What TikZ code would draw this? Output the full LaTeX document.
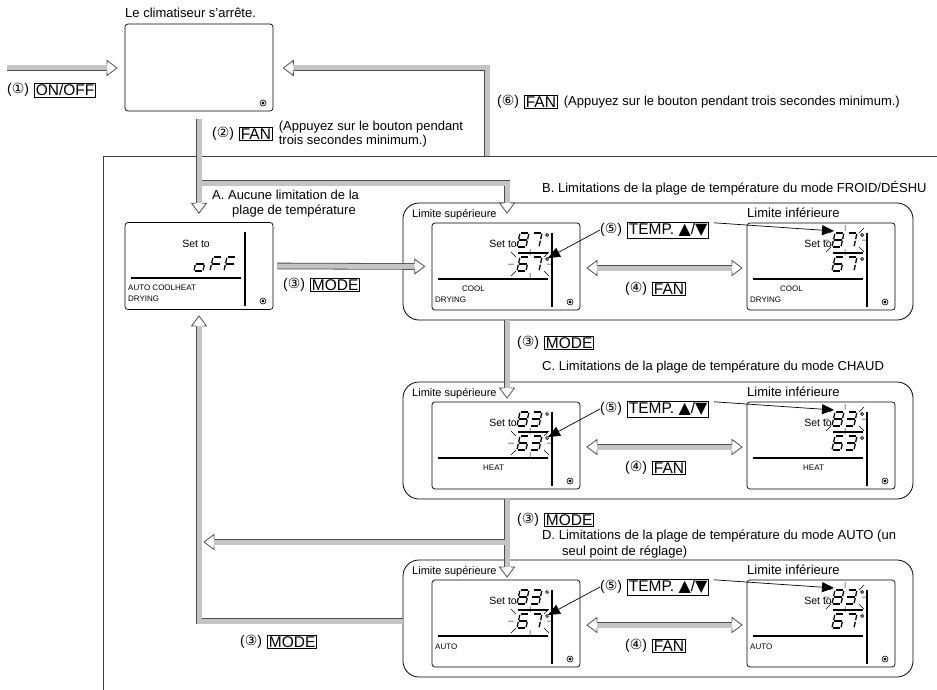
\documentclass[tikz,border=0pt]{standalone}
\usepackage{fontspec}
\setmainfont{Liberation Sans}
\newfontfamily\symfont{DejaVu Sans}
\usetikzlibrary{arrows.meta,positioning,calc}
\definecolor{bargray}{HTML}{C4C4C4}
\definecolor{baredge}{HTML}{4D4D4D}

% segments of the LCD figures
\def\segEight{a,b,c,d,e,f,g}
\def\segSeven{a,b,c}
\def\segSix{a,c,d,e,f,g}
\def\segThree{a,b,c,d,g}
\def\segLowO{c,d,e,g}
\def\segF{a,e,f,g}

\newcommand\stepno[1]{{\fontsize{14}{14}\selectfont(}{\symfont\fontsize{14}{14}\selectfont #1}{\fontsize{14}{14}\selectfont)}}
\newcommand\tri[1]{{\symfont\fontsize{16}{16}\selectfont #1}}

\tikzset{
  txt/.style={inner sep=0pt, font=\fontsize{13}{14}\selectfont},
  small/.style={inner sep=0pt, font=\fontsize{11}{12}\selectfont},
  tiny/.style={inner sep=0pt, font=\fontsize{8}{9}\selectfont},
  setto/.style={inner sep=0pt, font=\fontsize{10.5}{11}\selectfont},
  btn/.style={draw, line width=0.6pt, inner sep=1.3pt, font=\fontsize{15.5}{16}\selectfont},
  lcd/.style={draw, line width=0.7pt, rounded corners=3pt, minimum width=148pt, minimum height=87pt, inner sep=0pt},
  grp/.style={draw, line width=0.8pt, rounded corners=16pt, minimum width=510pt, minimum height=117pt, inner sep=0pt},
  frame/.style={draw=black!75, line width=0.8pt},
  lcdline/.style={line width=1.3pt},
  lcdseg/.style={line width=1.3pt, shorten <=0.9pt, shorten >=0.9pt},
  flash/.style={line width=0.5pt},
  fatout/.style={draw=baredge, line width=6.6pt},
  fatin/.style={draw=bargray, line width=5pt},
  pointer/.style={line width=0.7pt, -{Triangle[length=12pt,width=10pt]}},
  fathead/.pic={
    \fill[white] (0,0) -- (-10,7.5) -- (-10,-7.5) -- cycle;
    \draw[baredge, line width=0.8pt] (-10,3.3) -- (-10,7.5) -- (0,0) -- (-10,-7.5) -- (-10,-3.3);
  },
}

% dividers and dot of one display, #1,#2 = its top left corner
\newcommand\dotmark[2]{%
  \draw[line width=0.6pt] (#1,#2) circle (3pt);
  \fill (#1,#2) circle (1.6pt);}
\newcommand\lcdbase[2]{%
  \draw[lcdline] (#1+120,#2+10) -- (#1+120,#2+84);
  \draw[lcdline] (#1+6,#2+56) -- (#1+116,#2+56);
  \dotmark{#1+138}{#2+79}}
% one slanted figure
\newcommand\segdigit[3]{%
  \begin{scope}[shift={(#1,#2)}, xslant=0.22]
    \coordinate (pa) at (0,0);  \coordinate (qa) at (9,0);
    \coordinate (pb) at (9,0);  \coordinate (qb) at (9,7);
    \coordinate (pc) at (9,7);  \coordinate (qc) at (9,14);
    \coordinate (pd) at (0,14); \coordinate (qd) at (9,14);
    \coordinate (pe) at (0,7);  \coordinate (qe) at (0,14);
    \coordinate (pf) at (0,0);  \coordinate (qf) at (0,7);
    \coordinate (pg) at (0,7);  \coordinate (qg) at (9,7);
    \foreach \s in #3 {\draw[lcdseg] (p\s) -- (q\s);}
  \end{scope}}
% "Set to" with upper and lower limit
\newcommand\reading[7]{%
  \node[setto, anchor=base east] (#1) at (#2+85,#3+24) {Set to};
  \segdigit{#2+88}{#3+10}{#4}
  \segdigit{#2+101}{#3+10}{#5}
  \draw[line width=0.7pt] (#2+115,#3+12) circle (1.5pt);
  \draw[lcdline] (#2+86,#3+30) -- (#2+116,#3+30);
  \segdigit{#2+88}{#3+34}{#6}
  \segdigit{#2+101}{#3+34}{#7}
  \draw[line width=0.7pt] (#2+115,#3+36) circle (1.5pt);}
% blinking marks round a pair of figures
\newcommand\flashmarks[2]{%
  \draw[flash] (#1-22,#2) -- (#1-16,#2)
    (#1+17,#2) -- (#1+23,#2)
    (#1,#2-15) -- (#1,#2-9)
    (#1,#2+9) -- (#1,#2+15)
    (#1-19,#2-12) -- (#1-14,#2-7)
    (#1-19,#2+12) -- (#1-14,#2+7)
    (#1+19,#2-12) -- (#1+14,#2-7)
    (#1+19,#2+12) -- (#1+14,#2+7);}

\begin{document}
\begin{tikzpicture}[x=1pt, y=-1pt, line join=miter]
  \useasboundingbox (0,0) rectangle (937,690);

  % frame round the limit setting
  \draw[frame] (103,690) -- (103,156) -- (937,156);

  % unit stopped
  \node[txt, anchor=west] (stoptxt) at (125,13) {Le climatiseur s’arrête.};
  \node[lcd] (offbox) at (199,67.5) {};
  \dotmark{263}{103}
  \node[txt, anchor=west] (n1) at (7,90) {\stepno{①}};
  \node[btn, right=5pt of n1] (onoff) {ON/OFF};
  \node[txt, anchor=west] (n2) at (212,134) {\stepno{②}};
  \node[btn, right=5pt of n2] (fan2) {FAN};
  \node[txt, align=left, right=6pt of fan2] (hold2) {(Appuyez sur le bouton pendant\\trois secondes minimum.)};
  \node[txt, anchor=west] (n6) at (497,102) {\stepno{⑥}};
  \node[btn, right=5pt of n6] (fan6) {FAN};
  \node[txt, right=6pt of fan6] (hold6) {(Appuyez sur le bouton pendant trois secondes minimum.)};

  % A: no limit
  \node[txt, anchor=west] (ttlA1) at (212,195) {A. Aucune limitation de la};
  \node[txt, anchor=west] (ttlA2) at (232,211) {plage de température};
  \node[lcd] (lcdA) at (199,266) {};
  \lcdbase{125}{222}
  \node[setto, anchor=base east] (setA) at (210,247) {Set to};
  \segdigit{197}{257}{\segLowO}
  \segdigit{213}{257}{\segF}
  \segdigit{227}{257}{\segF}
  \node[tiny, anchor=west] (modeA1) at (128,288) {AUTO COOLHEAT};
  \node[tiny, anchor=west] (modeA2) at (128,299) {DRYING};
  \node[txt, anchor=west] (n3A) at (283,285) {\stepno{③}};
  \node[btn, right=5pt of n3A] (modeA) {MODE};

  % B: cool / dry
  \node[txt, anchor=west] (ttlB) at (542,188) {B. Limitations de la plage de température du mode FROID/DÉSHU};
  \node[grp] (grpB) at (658,261.5) {};
  \node[small, anchor=west] (supB) at (412,215) {Limite supérieure};
  \node[txt, anchor=west] (infB) at (747,213) {Limite inférieure};
  \node[lcd] (lcdBl) at (506,266.5) {};
  \node[lcd] (lcdBr) at (821,266.5) {};
  \lcdbase{432}{223}
  \lcdbase{747}{223}
  \reading{setBl}{432}{223}{\segEight}{\segSeven}{\segSix}{\segSeven}
  \reading{setBr}{747}{223}{\segEight}{\segSeven}{\segSix}{\segSeven}
  \flashmarks{530}{264}
  \flashmarks{845}{240}
  \node[tiny, anchor=west] (coolBl) at (462,289) {COOL};
  \node[tiny, anchor=west] (dryBl) at (435,300) {DRYING};
  \node[tiny, anchor=west] (coolBr) at (780,289) {COOL};
  \node[tiny, anchor=west] (dryBr) at (750,300) {DRYING};
  \node[txt, anchor=west] (n5B) at (600,230) {\stepno{⑤}};
  \node[btn, right=5pt of n5B] (tempB) {TEMP. \tri{▲}/\tri{▼}};
  \node[txt, anchor=west] (n4B) at (625,289) {\stepno{④}};
  \node[btn, right=5pt of n4B] (fanB) {FAN};
  \coordinate (ptBl) at (548,258);
  \coordinate (ptBr) at (834,231);
  \draw[pointer] (n5B.west) -- (ptBl);
  \draw[pointer] ($(tempB.north east)+(5,1)$) -- (ptBr);

  % C: heat
  \node[txt, anchor=west] (n3B) at (517,343) {\stepno{③}};
  \node[btn, right=5pt of n3B] (modeB) {MODE};
  \node[txt, anchor=west] (ttlC) at (542,367) {C. Limitations de la plage de température du mode CHAUD};
  \node[grp] (grpC) at (658,440.5) {};
  \node[small, anchor=west] (supC) at (412,394) {Limite supérieure};
  \node[txt, anchor=west] (infC) at (747,392) {Limite inférieure};
  \node[lcd] (lcdCl) at (506,445.5) {};
  \node[lcd] (lcdCr) at (821,445.5) {};
  \lcdbase{432}{402}
  \lcdbase{747}{402}
  \reading{setCl}{432}{402}{\segEight}{\segThree}{\segSix}{\segThree}
  \reading{setCr}{747}{402}{\segEight}{\segThree}{\segSix}{\segThree}
  \flashmarks{530}{443}
  \flashmarks{845}{419}
  \node[tiny, anchor=west] (heatCl) at (483,468) {HEAT};
  \node[tiny, anchor=west] (heatCr) at (803,468) {HEAT};
  \node[txt, anchor=west] (n5C) at (600,409) {\stepno{⑤}};
  \node[btn, right=5pt of n5C] (tempC) {TEMP. \tri{▲}/\tri{▼}};
  \node[txt, anchor=west] (n4C) at (625,468) {\stepno{④}};
  \node[btn, right=5pt of n4C] (fanC) {FAN};
  \coordinate (ptCl) at (548,437);
  \coordinate (ptCr) at (834,410);
  \draw[pointer] (n5C.west) -- (ptCl);
  \draw[pointer] ($(tempC.north east)+(5,1)$) -- (ptCr);

  % D: auto
  \node[txt, anchor=west] (n3C) at (517,520) {\stepno{③}};
  \node[btn, right=5pt of n3C] (modeC) {MODE};
  \node[txt, anchor=west] (ttlD1) at (542,536) {D. Limitations de la plage de température du mode AUTO (un};
  \node[txt, anchor=west] (ttlD2) at (562,552) {seul point de réglage)};
  \node[grp] (grpD) at (658,618.5) {};
  \node[small, anchor=west] (supD) at (412,572) {Limite supérieure};
  \node[txt, anchor=west] (infD) at (747,570) {Limite inférieure};
  \node[lcd] (lcdDl) at (506,623.5) {};
  \node[lcd] (lcdDr) at (821,623.5) {};
  \lcdbase{432}{580}
  \lcdbase{747}{580}
  \reading{setDl}{432}{580}{\segEight}{\segThree}{\segSix}{\segSeven}
  \reading{setDr}{747}{580}{\segEight}{\segThree}{\segSix}{\segSeven}
  \flashmarks{530}{621}
  \flashmarks{845}{597}
  \node[tiny, anchor=west] (autoDl) at (435,647) {AUTO};
  \node[tiny, anchor=west] (autoDr) at (750,647) {AUTO};
  \node[txt, anchor=west] (n5D) at (600,587) {\stepno{⑤}};
  \node[btn, right=5pt of n5D] (tempD) {TEMP. \tri{▲}/\tri{▼}};
  \node[txt, anchor=west] (n4D) at (625,646) {\stepno{④}};
  \node[btn, right=5pt of n4D] (fanD) {FAN};
  \coordinate (ptDl) at (548,615);
  \coordinate (ptDr) at (834,588);
  \draw[pointer] (n5D.west) -- (ptDl);
  \draw[pointer] ($(tempD.north east)+(5,1)$) -- (ptDr);
  \node[txt, anchor=west] (n3D) at (240,642) {\stepno{③}};
  \node[btn, right=5pt of n3D] (modeD) {MODE};

  % grey hollow arrows
  \coordinate (onsrc) at (7,68);
  \coordinate (ontip) at (117,68);
  \coordinate (fansrc) at ([yshift=-8pt]offbox.south);
  \coordinate (fork) at (199,183);
  \coordinate (atip) at ([yshift=9pt]lcdA.north);
  \coordinate (btip) at (507,213);
  \coordinate (retsrc) at (487,156);
  \coordinate (rettip) at ([xshift=10pt]offbox.east |- ontip);
  \coordinate (modesrc) at ([xshift=4pt]lcdA.east);
  \coordinate (modetip) at ([xshift=-7pt]lcdBl.west);
  \coordinate (ctip) at (507,398);
  \coordinate (dtip) at (507,577);
  \coordinate (dfork) at (507,542);
  \coordinate (backtip) at (204,542);
  \coordinate (uptip) at (199,316);
  \foreach \p in {out,in} {
    \draw[fat\p] (onsrc) -- ($(ontip)+(-6,0)$);
    \draw[fat\p] (fansrc) -- ($(atip)+(0,-6)$)
      (fork) -- (fork -| btip) -- ($(btip)+(0,-6)$);
    \draw[fat\p] (retsrc) -- (retsrc |- rettip) -- ($(rettip)+(6,0)$);
    \draw[fat\p] (modesrc) -- ($(modetip)+(-6,0)$);
    \draw[fat\p] (grpB.south -| ctip) -- ($(ctip)+(0,-6)$);
    \draw[fat\p] (grpC.south -| dtip) -- ($(dtip)+(0,-6)$)
      (dfork) -- ($(backtip)+(6,0)$);
    \draw[fat\p] (grpD.west |- 0,621) -- (uptip |- 0,621) -- ($(uptip)+(0,6)$);
    \draw[fat\p] (597,268) -- (732,268);
    \draw[fat\p] (597,447) -- (732,447);
    \draw[fat\p] (597,625) -- (732,625);
  }
  \pic at (ontip) {fathead};
  \pic[rotate=-90] at (atip) {fathead};
  \pic[rotate=-90] at (btip) {fathead};
  \pic[rotate=180] at (rettip) {fathead};
  \pic at (modetip) {fathead};
  \pic[rotate=-90] at (ctip) {fathead};
  \pic[rotate=-90] at (dtip) {fathead};
  \pic[rotate=180] at (backtip) {fathead};
  \pic[rotate=90] at (uptip) {fathead};
  \foreach \y in {268,447,625} {
    \pic[rotate=180] at (587,\y) {fathead};
    \pic at (742,\y) {fathead};
  }
\end{tikzpicture}
\end{document}
